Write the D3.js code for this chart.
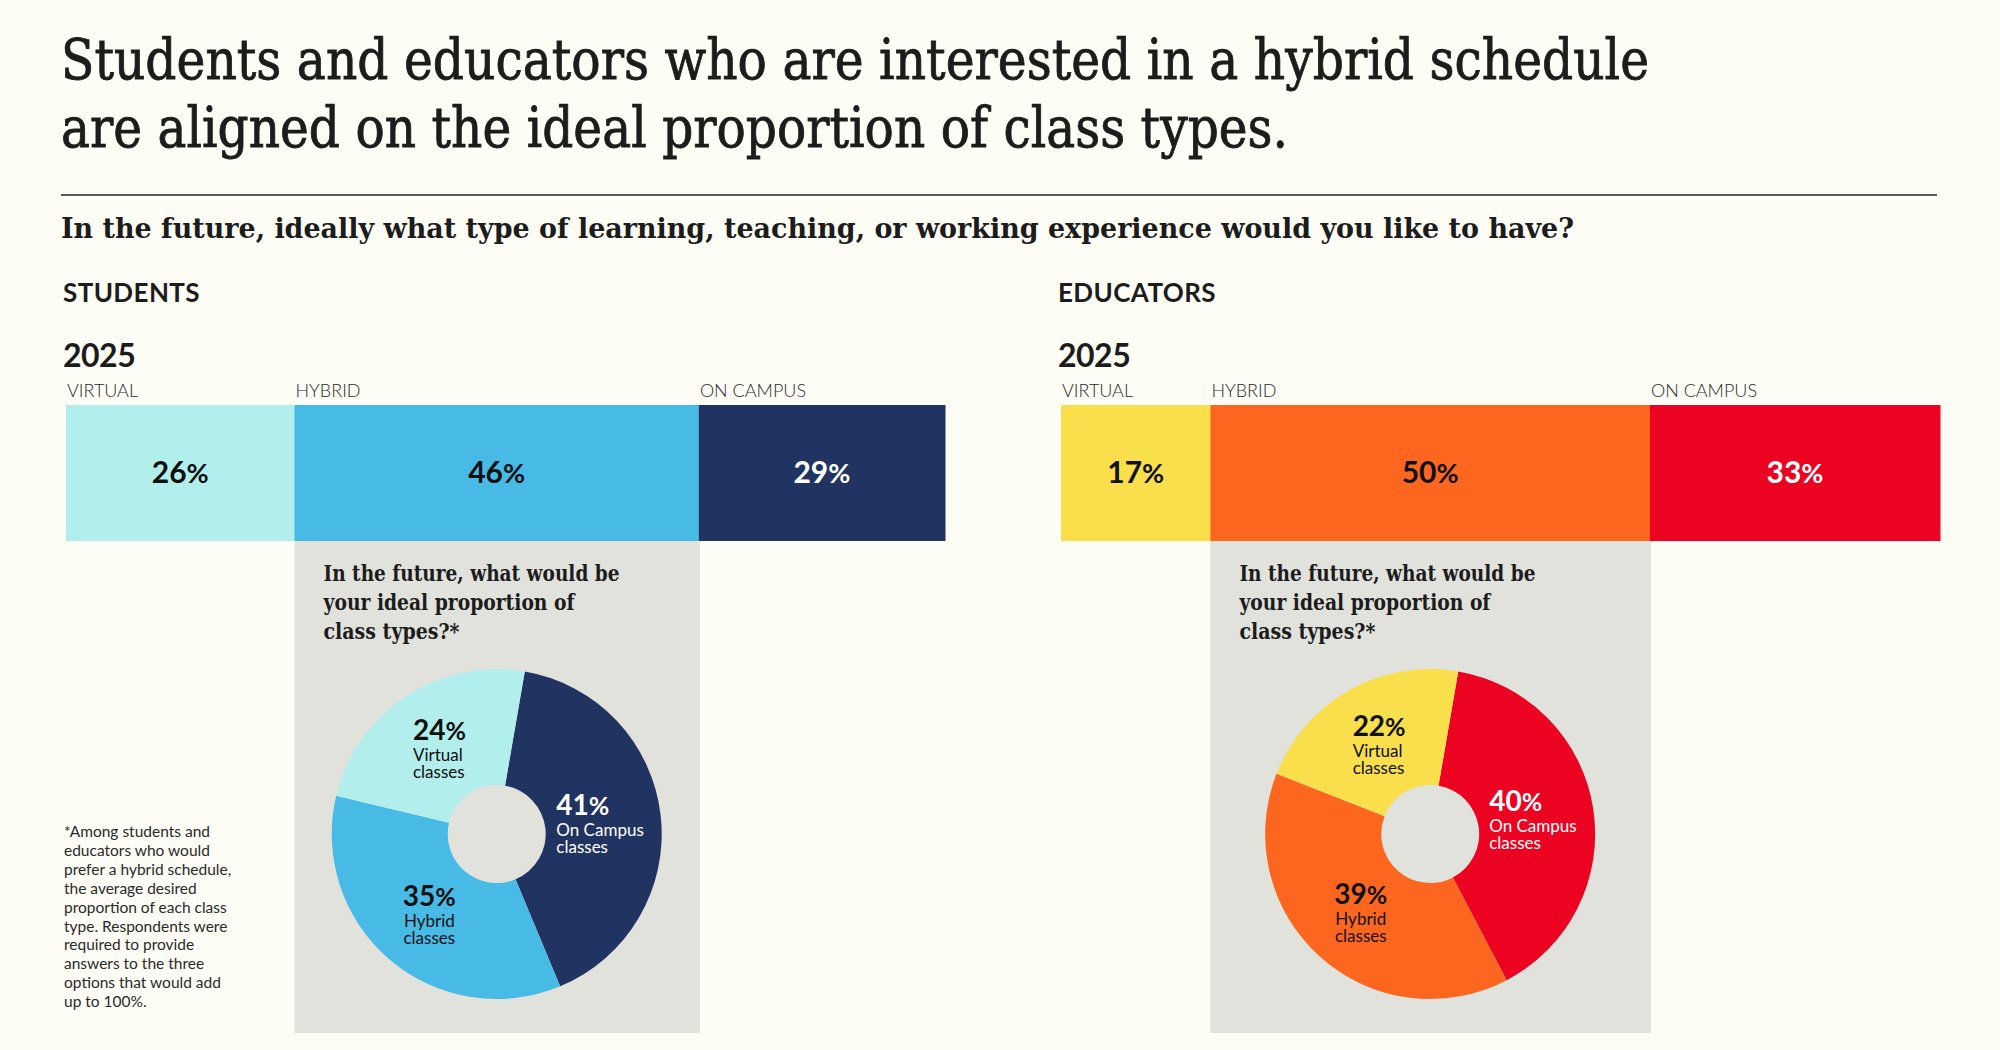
<!DOCTYPE html>
<html>
<head>
    <meta charset="utf-8">
    <title>Hybrid schedule - class types</title>
    <script src="https://d3js.org/d3.v7.min.js"></script>
    <style>
        body { margin: 0; background: #fdfdf5; }
        .serif { font-family: "DejaVu Serif", "Liberation Serif", serif; fill: #1c1c1c; }
        .sans { font-family: Lato, "Open Sans", sans-serif; fill: #1c1c1c; }
    </style>
</head>
<body>
    <svg id="chart"></svg>

    <script>
        // chart data
        const year = '2025';
        const barCategories = ['VIRTUAL', 'HYBRID', 'ON CAMPUS'];
        const studentsNow = [26, 46, 29];
        const educatorsNow = [17, 50, 33];

        // ideal proportion of class types (donut, clockwise from top)
        const donutCategories = ['On Campus', 'Hybrid', 'Virtual'];
        const studentsIdeal = [41, 35, 24];
        const educatorsIdeal = [40, 39, 22];

        const footnote = [
            '*Among students and',
            'educators who would',
            'prefer a hybrid schedule,',
            'the average desired',
            'proportion of each class',
            'type. Respondents were',
            'required to provide',
            'answers to the three',
            'options that would add',
            'up to 100%.'
        ];

        const width = 2000;
        const height = 1050;

        const svg = d3.select('#chart')
            .attr('width', width)
            .attr('height', height);

        svg.append('rect')
            .attr('width', width)
            .attr('height', height)
            .attr('fill', '#fdfdf5');

        // squeeze/stretch a serif line to the width it has in the print layout
        function fit(sel, w) {
            sel.attr('textLength', w).attr('lengthAdjust', 'spacingAndGlyphs');
        }

        // headline (thin stroke to get closer to the heavier print face)
        svg.append('text').attr('class', 'serif')
            .attr('x', 61).attr('y', 79)
            .style('font-size', '56px')
            .style('stroke', '#1c1c1c').style('stroke-width', 0.9)
            .text('Students and educators who are interested in a hybrid schedule')
            .call(fit, 1588);
        svg.append('text').attr('class', 'serif')
            .attr('x', 61).attr('y', 147)
            .style('font-size', '56px')
            .style('stroke', '#1c1c1c').style('stroke-width', 0.9)
            .text('are aligned on the ideal proportion of class types.')
            .call(fit, 1227);

        svg.append('line')
            .attr('x1', 61).attr('x2', 1937)
            .attr('y1', 195).attr('y2', 195)
            .attr('stroke', '#222')
            .attr('stroke-width', 1.5);

        svg.append('text').attr('class', 'serif')
            .attr('x', 61).attr('y', 238)
            .style('font-size', '28px')
            .style('font-weight', 'bold')
            .text('In the future, ideally what type of learning, teaching, or working experience would you like to have?')
            .call(fit, 1513);

        const groups = [
            {
                name: 'STUDENTS', x0: 66, now: studentsNow, ideal: studentsIdeal,
                colors: { 'VIRTUAL': '#b2efec', 'HYBRID': '#47bae6', 'ON CAMPUS': '#213461' }
            },
            {
                name: 'EDUCATORS', x0: 1061, now: educatorsNow, ideal: educatorsIdeal,
                colors: { 'VIRTUAL': '#f8df4b', 'HYBRID': '#fd661f', 'ON CAMPUS': '#ec0321' }
            }
        ];

        const barW = 879;
        const barTop = 405;
        const barH = 136;
        const panelBottom = 1033;
        const outerR = 165;
        const innerR = 49;
        const labelR = 104;
        const startAngle = 9.8 * Math.PI / 180;
        const donutKey = { 'On Campus': 'ON CAMPUS', 'Hybrid': 'HYBRID', 'Virtual': 'VIRTUAL' };
        const whiteText = { 'ON CAMPUS': true };

        groups.forEach(g => {
            const grp = svg.append('g');

            grp.append('text').attr('class', 'sans')
                .attr('x', g.x0 - 3).attr('y', 302)
                .style('font-size', '26px').style('font-weight', 'bold')
                .style('letter-spacing', '0.4px')
                .text(g.name);

            grp.append('text').attr('class', 'sans')
                .attr('x', g.x0 - 3).attr('y', 367)
                .style('font-size', '32px').style('font-weight', 'bold')
                .style('letter-spacing', '-0.5px')
                .text(year);

            // stacked bar on a 0-100% axis (rounded shares can overshoot, so clamp)
            const x = d3.scaleLinear()
                .domain([0, 100])
                .range([g.x0, g.x0 + barW])
                .clamp(true);

            let acc = 0;
            const segs = g.now.map((v, i) => {
                const s = { cat: barCategories[i], value: v, start: acc, end: acc + v };
                acc += v;
                return s;
            });

            const hyb = segs.find(s => s.cat === 'HYBRID');
            const px0 = x(hyb.start);
            const px1 = x(hyb.end);

            // grey panel under the hybrid segment
            grp.append('rect')
                .attr('x', px0).attr('y', barTop + barH)
                .attr('width', px1 - px0 + 1)
                .attr('height', panelBottom - barTop - barH)
                .attr('fill', '#e2e2dc');

            grp.selectAll('.seg')
                .data(segs)
                .enter()
                .append('rect')
                .attr('class', 'seg')
                .attr('x', d => x(d.start))
                .attr('y', barTop)
                .attr('width', d => x(d.end) - x(d.start) + 0.5)
                .attr('height', barH)
                .attr('fill', d => g.colors[d.cat]);

            grp.selectAll('.cat')
                .data(segs)
                .enter()
                .append('text')
                .attr('class', 'sans cat')
                .attr('x', d => x(d.start) + 1)
                .attr('y', 397)
                .style('font-size', '18px')
                .style('font-weight', 300)
                .style('fill', '#2a2a2a')
                .text(d => d.cat);

            const pct = grp.selectAll('.pct')
                .data(segs)
                .enter()
                .append('text')
                .attr('class', 'sans pct')
                .attr('x', d => (x(d.start) + x(d.end)) / 2)
                .attr('y', 483)
                .attr('text-anchor', 'middle')
                .style('font-size', '30px')
                .style('font-weight', 'bold')
                .style('fill', d => whiteText[d.cat] ? '#ffffff' : '#111');
            pct.append('tspan').text(d => d.value);
            pct.append('tspan').style('font-size', '27px').text('%');

            // panel question
            const qLines = ['In the future, what would be', 'your ideal proportion of', 'class types?*'];
            const qWidths = [296, 251, 136];
            qLines.forEach((t, i) => {
                grp.append('text').attr('class', 'serif')
                    .attr('x', px0 + 29)
                    .attr('y', 581 + i * 29)
                    .style('font-size', '22px')
                    .style('font-weight', 'bold')
                    .text(t)
                    .call(fit, qWidths[i]);
            });

            // donut
            const cx = (px0 + px1) / 2;
            const cy = 834;
            const pie = d3.pie()
                .sort(null)
                .value(d => d.value)
                .startAngle(startAngle)
                .endAngle(startAngle + 2 * Math.PI);

            const slices = pie(donutCategories.map((c, i) => ({ cat: c, value: g.ideal[i] })));
            const arc = d3.arc().innerRadius(innerR).outerRadius(outerR);
            const labelArc = d3.arc().innerRadius(labelR).outerRadius(labelR);

            const donut = grp.append('g').attr('transform', `translate(${cx},${cy})`);

            donut.selectAll('path')
                .data(slices)
                .enter()
                .append('path')
                .attr('d', arc)
                .attr('fill', d => g.colors[donutKey[d.data.cat]]);

            slices.forEach(d => {
                const [lx, ly] = labelArc.centroid(d);
                const white = whiteText[donutKey[d.data.cat]];
                const col = white ? '#ffffff' : '#111';
                const lab = donut.append('g');

                const p = lab.append('text').attr('class', 'sans')
                    .attr('y', ly - 7)
                    .style('font-size', '28px')
                    .style('font-weight', 'bold')
                    .style('fill', col);
                p.append('tspan').text(d.data.value);
                p.append('tspan').style('font-size', '25px').text('%');

                [d.data.cat, 'classes'].forEach((w, i) => {
                    lab.append('text').attr('class', 'sans')
                        .attr('y', ly + 14 + i * 17)
                        .style('font-size', '17px')
                        .style('fill', col)
                        .text(w);
                });

                // left-aligned block centred on the label point (hybrid is centred per line)
                const texts = lab.selectAll('text');
                if (d.data.cat === 'Hybrid') {
                    texts.attr('x', lx).attr('text-anchor', 'middle');
                } else {
                    const maxW = d3.max(texts.nodes(), n => n.getComputedTextLength());
                    texts.attr('x', lx - maxW / 2);
                }
            });
        });

        // footnote
        svg.append('g')
            .selectAll('text')
            .data(footnote)
            .enter()
            .append('text')
            .attr('class', 'sans')
            .attr('x', 64)
            .attr('y', (d, i) => 837 + i * 18.9)
            .style('font-size', '15.5px')
            .style('fill', '#2a2a2a')
            .text(d => d);
    </script>
</body>
</html>
